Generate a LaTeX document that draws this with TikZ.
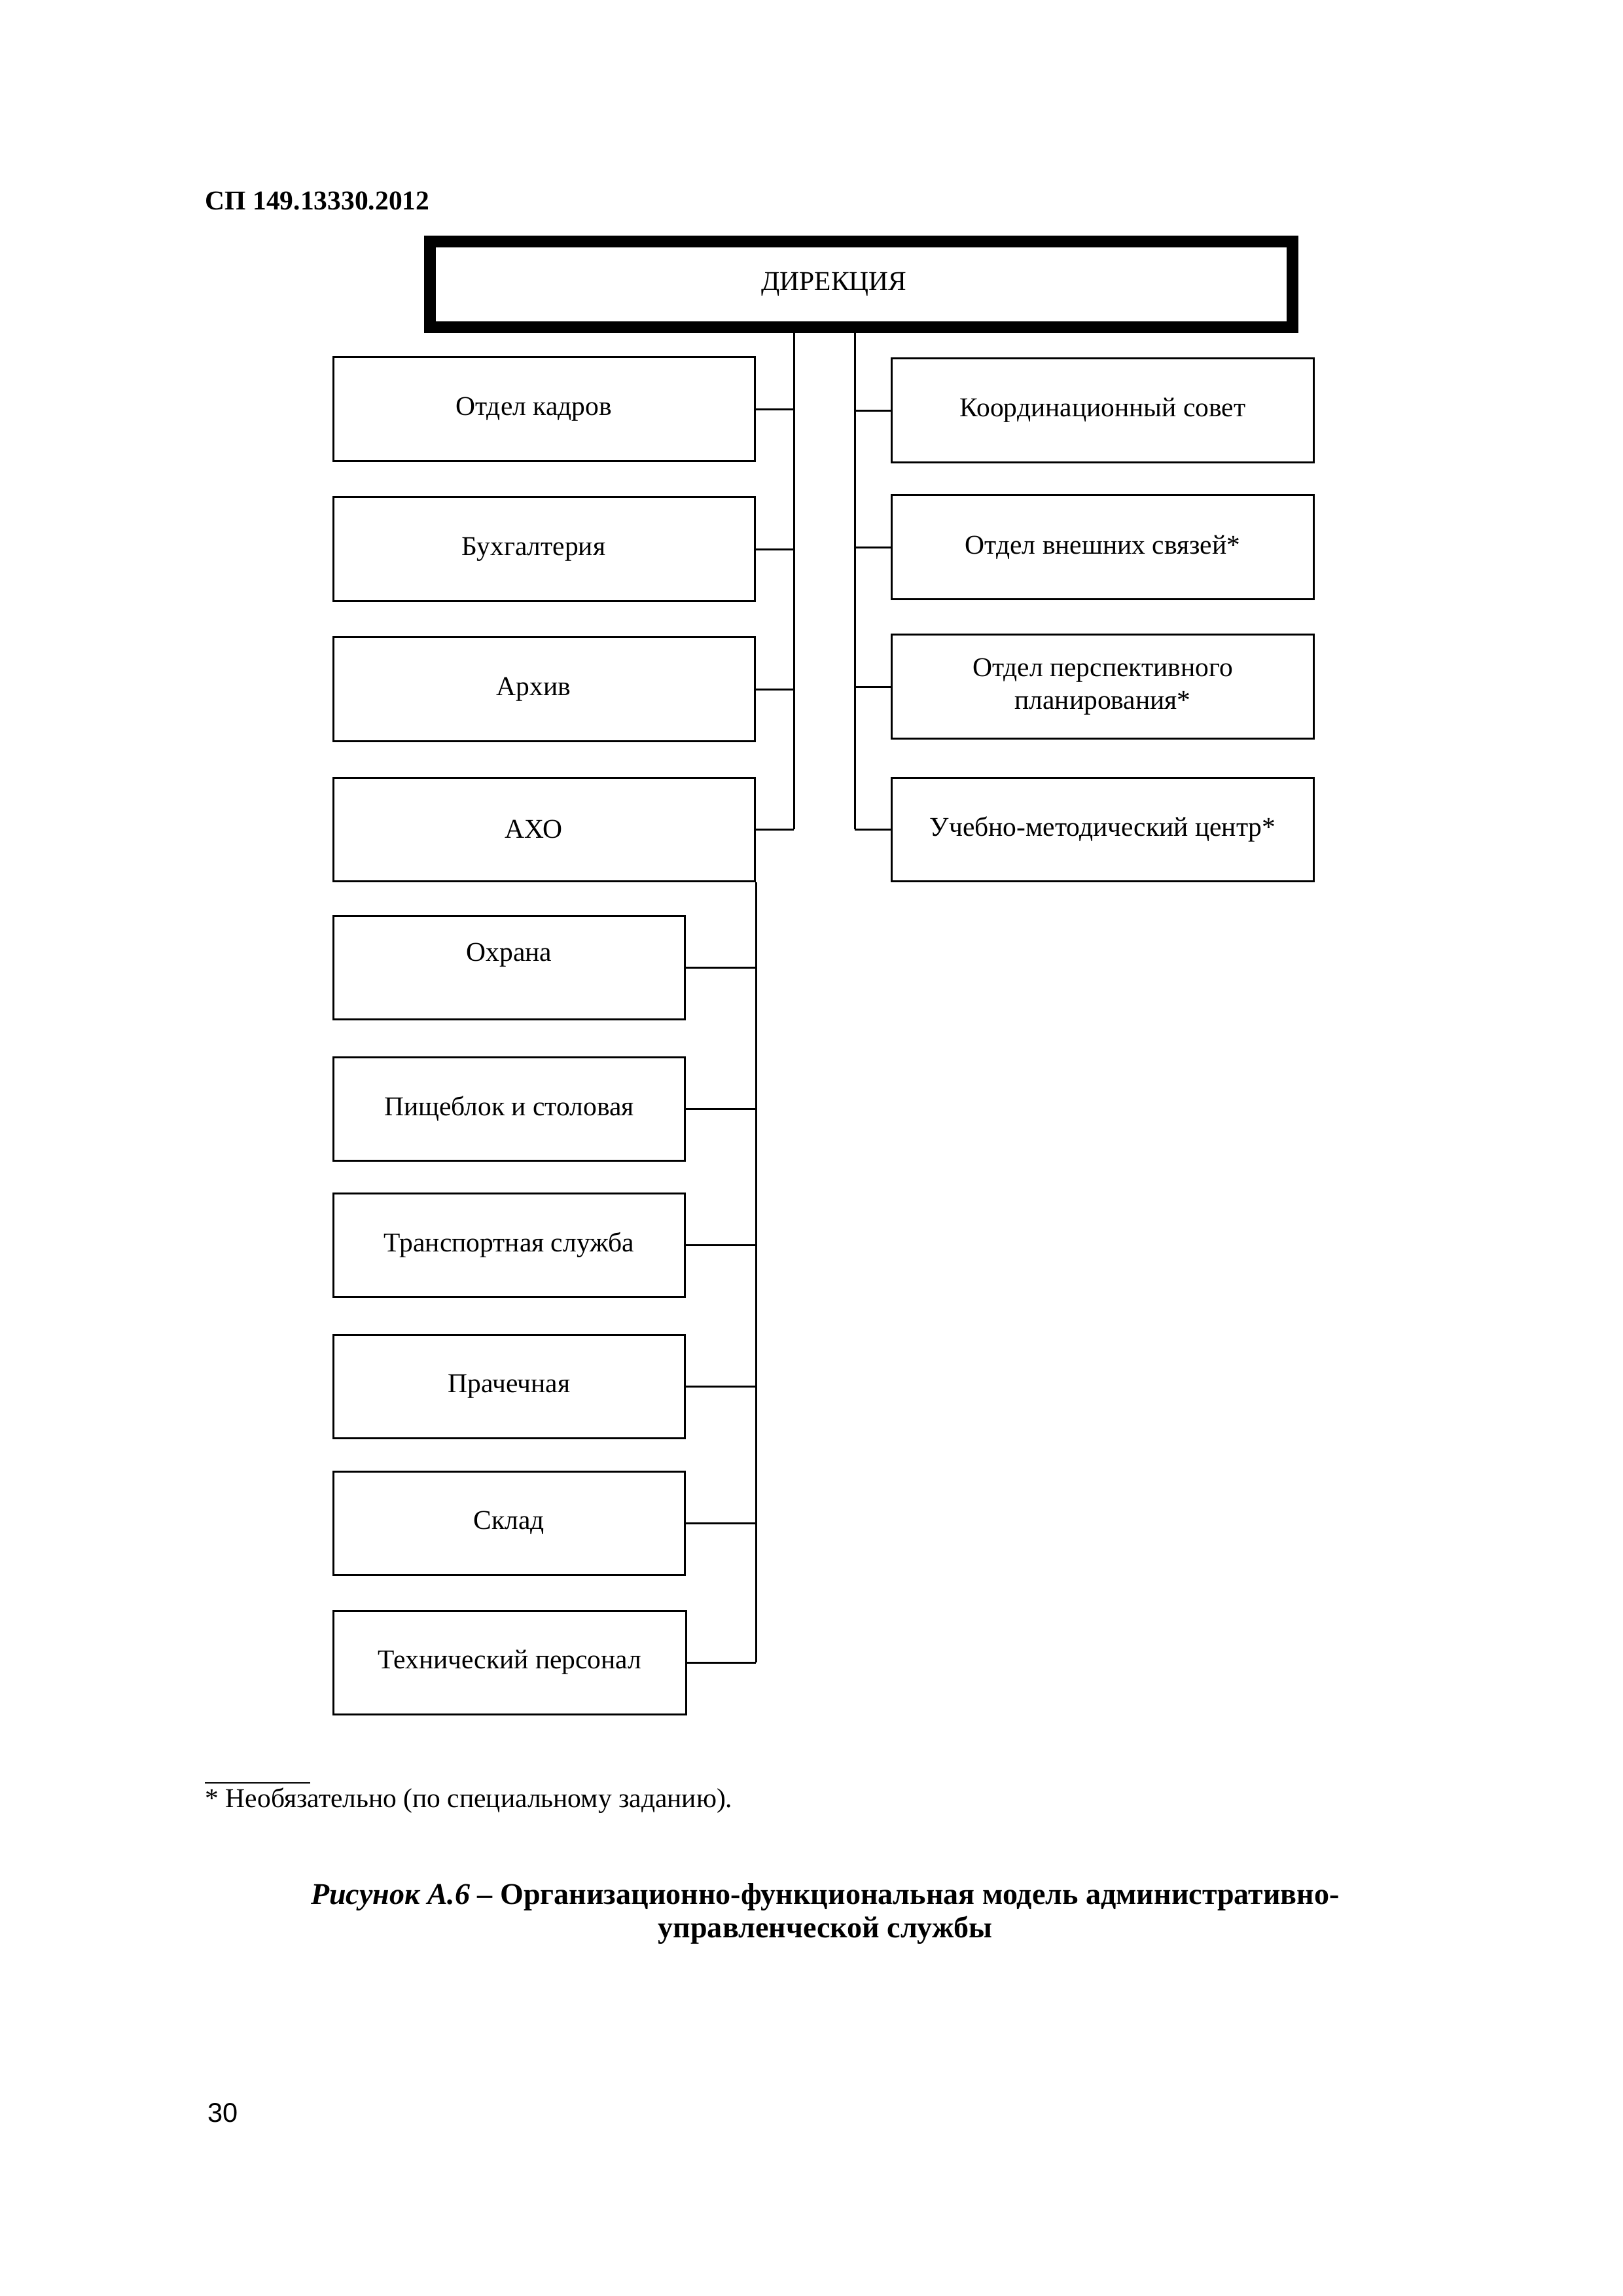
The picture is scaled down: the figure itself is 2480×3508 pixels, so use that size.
\documentclass[tikz,border=0pt]{standalone}
\usepackage{fontspec}
\setmainfont{Liberation Serif}
\newfontfamily\pgnumfont{Liberation Sans}
\begin{document}
\begin{tikzpicture}[x=0.0846774mm,y=-0.0846774mm,
  txt/.style={font=\fontsize{10}{12}\selectfont},
  box/.style={draw, rectangle, line width=0.254mm, inner sep=0pt, txt, minimum height=13.38mm},
  boxw/.style={box, minimum width=54.55mm},
  boxn/.style={box, minimum width=45.5mm},
  dirbox/.style={draw, rectangle, line width=1.524mm, inner sep=0pt, txt, minimum width=111.6mm, minimum height=11.09mm},
  conn/.style={line width=0.254mm},
  lbl/.style={inner sep=0pt, anchor=west}]
\useasboundingbox[fill=white] (0,0) rectangle (2480,3508);

\node[lbl, font=\fontsize{10}{12}\selectfont\bfseries] (hdr) at (313,307) {СП 149.13330.2012};

\node[dirbox] (dir) at (1316,434.5) {ДИРЕКЦИЯ\kern20pt};

% left upper column
\node[boxw] (kadr) at (831.5,625) {Отдел кадров\kern7.7pt};
\node[boxw] (buh)  at (831.5,839) {Бухгалтерия\kern7.7pt};
\node[boxw] (arch) at (831.5,1053) {Архив\kern7.7pt};
\node[boxw] (axo)  at (831.5,1267) {АХО\kern7.7pt};

% right column
\node[boxw] (koord) at (1685,627) {Координационный совет};
\node[boxw] (vnesh) at (1685,836) {Отдел внешних связей*};
\node[boxw, align=center] (persp) at (1685,1049) {Отдел перспективного\\планирования*};
\node[boxw] (ucheb) at (1685,1267) {Учебно-методический центр*};

% lower column
\node[boxn] (ohr)   at (778,1478) {\raisebox{4.56pt}[\height][\depth]{Охрана}};
\node[boxn] (pish)  at (778,1694) {Пищеблок и столовая};
\node[boxn] (trans) at (778,1902) {Транспортная служба};
\node[boxn] (prach) at (778,2118) {Прачечная};
\node[boxn] (sklad) at (778,2327) {Склад};
\node[boxn, minimum width=45.65mm] (tech) at (779,2540) {Технический персонал};

% trunks
\coordinate (LT) at (1213,0);
\coordinate (RT) at (1306,0);
\draw[conn] (dir.south -| LT) -- (axo.east -| LT);
\draw[conn] (dir.south -| RT) -- (ucheb.west -| RT);
\foreach \n in {kadr,buh,arch,axo}{\draw[conn] (\n.east) -- (\n.east -| LT);}
\foreach \n in {koord,vnesh,persp,ucheb}{\draw[conn] (\n.west) -- (\n.west -| RT);}
\draw[conn] (axo.south east) -- (axo.south east |- tech.east);
\foreach \n in {ohr,pish,trans,prach,sklad,tech}{\draw[conn] (\n.east) -- (\n.east -| axo.south east);}

% footnote
\coordinate (fr1) at (313,2724);
\coordinate (fr2) at (474,2724);
\draw[line width=0.17mm] (fr1) -- (fr2);
\node[lbl, txt] (fn) at (313,2751) {* Необязательно (по специальному заданию).};

% caption
\node[inner sep=0pt, align=center, font=\fontsize{11.1}{12.5}\selectfont\bfseries] (cap) at (1261,2924)
  {{\itshape Рисунок А.6} – Организационно-функциональная модель административно-\\управленческой службы};

\node[lbl, font=\fontsize{10}{12}\pgnumfont] (pg) at (317,3228) {30};
\end{tikzpicture}
\end{document}
